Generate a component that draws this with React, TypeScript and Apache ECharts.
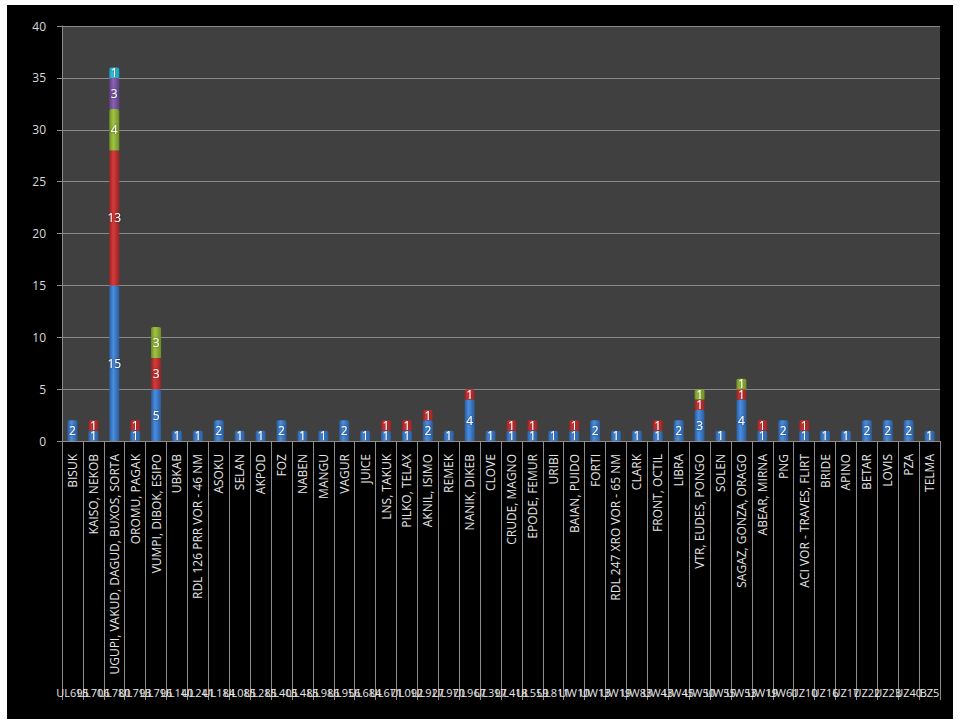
import React, { useEffect, useRef } from "react";
import * as echarts from "echarts";

const categories = [
  "BISUK", "KAISO, NEKOB", "UGUPI, VAKUD, DAGUD, BUXOS, SORTA", "OROMU, PAGAK",
  "VUMPI, DIBOK, ESIPO", "UBKAB", "RDL 126 PRR VOR - 46 NM", "ASOKU", "SELAN", "AKPOD",
  "FOZ", "NABEN", "MANGU", "VAGUR", "JUICE", "LNS, TAKUK", "PILKO, TELAX", "AKNIL, ISIMO",
  "REMEK", "NANIK, DIKEB", "CLOVE", "CRUDE, MAGNO", "EPODE, FEMUR", "URIBI", "BAIAN, PUIDO",
  "FORTI", "RDL 247 XRO VOR - 65 NM", "CLARK", "FRONT, OCTIL", "LIBRA", "VTR, EUDES, PONGO",
  "SOLEN", "SAGAZ, GONZA, ORAGO", "ABEAR, MIRNA", "PNG", "ACI VOR - TRAVES, FLIRT", "BRIDE",
  "APINO", "BETAR", "LOVIS", "PZA", "TELMA",
];

const routeCodes = [
  "UL695", "UL706", "UL780", "UL793", "UL796", "UL140", "UL241", "UL184", "UL085", "UL285",
  "UL405", "UL485", "UL986", "UL956", "UL684", "UL671", "UL092", "UL927", "UL970", "UL967",
  "UL397", "UL418", "UL559", "UL811", "UW10", "UW13", "UW19", "UW83", "UW43", "UW45",
  "UW50", "UW55", "UW53", "UW19", "UW61", "UZ10", "UZ16", "UZ17", "UZ22", "UZ23", "UZ40", "BZ5",
];

const seg1 = [2, 1, 15, 1, 5, 1, 1, 2, 1, 1, 2, 1, 1, 2, 1, 1, 1, 2, 1, 4, 1, 1, 1, 1, 1, 2, 1, 1, 1, 2, 3, 1, 4, 1, 2, 1, 1, 1, 2, 2, 2, 1];
const seg2 = [null, 1, 13, 1, 3, null, null, null, null, null, null, null, null, null, null, 1, 1, 1, null, 1, null, 1, 1, null, 1, null, null, null, 1, null, 1, null, 1, 1, null, 1, null, null, null, null, null, null];
const seg3 = [null, null, 4, null, 3, null, null, null, null, null, null, null, null, null, null, null, null, null, null, null, null, null, null, null, null, null, null, null, null, null, 1, null, 1, null, null, null, null, null, null, null, null, null];
const seg4 = [null, null, 3, null, null, null, null, null, null, null, null, null, null, null, null, null, null, null, null, null, null, null, null, null, null, null, null, null, null, null, null, null, null, null, null, null, null, null, null, null, null, null];
const seg5 = [null, null, 1, null, null, null, null, null, null, null, null, null, null, null, null, null, null, null, null, null, null, null, null, null, null, null, null, null, null, null, null, null, null, null, null, null, null, null, null, null, null, null];

const yTicks = { min: 0, max: 40, interval: 5 };

function cyl(edge: string, mid: string) {
  return new echarts.graphic.LinearGradient(0, 0, 1, 0, [
    { offset: 0, color: edge },
    { offset: 0.4, color: mid },
    { offset: 1, color: edge },
  ]);
}

export default function App() {
  const ref = useRef<HTMLDivElement>(null);
  useEffect(() => {
    if (!ref.current) return;
    const chart = echarts.init(ref.current, null, { renderer: "svg" });
    const font = "'Open Sans', 'DejaVu Sans', sans-serif";
    const mk = (name: string, data: (number | null)[], edge: string, mid: string) => ({
      name,
      type: "bar",
      stack: "total",
      data,
      barWidth: 10,
      itemStyle: { color: cyl(edge, mid), borderRadius: [2, 2, 0, 0] },
      label: {
        show: true,
        position: "inside",
        color: "#ffffff",
        fontSize: 12,
        fontFamily: font,
        textShadowColor: "rgba(0,0,0,0.6)",
        textShadowBlur: 2,
      },
    });
    chart.setOption({
      animation: false,
      backgroundColor: "#000000",
      grid: {
        left: 55,
        right: 13,
        top: 21,
        bottom: 278,
        show: true,
        backgroundColor: "#404040",
        borderWidth: 0,
      },
      xAxis: [
        {
          type: "category",
          data: categories,
          position: "bottom",
          axisLine: { show: true, lineStyle: { color: "#8c8c8c", width: 1 } },
          axisTick: { show: true, length: 259, alignWithLabel: false, lineStyle: { color: "#8c8c8c" } },
          axisLabel: {
            interval: 0,
            rotate: 90,
            margin: 13,
            color: "#e6e6e6",
            fontSize: 12,
            fontFamily: font,
          },
        },
        {
          type: "category",
          data: routeCodes,
          position: "bottom",
          offset: 0,
          axisLine: { show: false },
          axisTick: { show: false },
          axisLabel: {
            interval: 0,
            margin: 246,
            color: "#e6e6e6",
            fontSize: 11,
            fontFamily: font,
          },
        },
      ],
      yAxis: {
        type: "value",
        min: yTicks.min,
        max: yTicks.max,
        interval: yTicks.interval,
        axisLine: { show: true, lineStyle: { color: "#8c8c8c" } },
        axisTick: { show: true, length: 5, lineStyle: { color: "#8c8c8c" } },
        axisLabel: { color: "#d9d9d9", fontSize: 12, fontFamily: font, margin: 16 },
        splitLine: { lineStyle: { color: "#8a8a8a", width: 1 } },
      },
      series: [
        mk("s1", seg1, "#2a5c9e", "#4a8ee0"),
        mk("s2", seg2, "#9a2222", "#d43c3c"),
        mk("s3", seg3, "#6f8f22", "#a2c444"),
        mk("s4", seg4, "#5e3d86", "#8a62b4"),
        mk("s5", seg5, "#1a9ab8", "#44c8e4"),
      ],
    });
    return () => chart.dispose();
  }, []);
  return (
    <div style={{ position: "fixed", left: 0, top: 0, width: 960, height: 725, background: "#ffffff" }}>
      <div ref={ref} style={{ position: "absolute", left: 7, top: 5, width: 946, height: 714 }} />
    </div>
  );
}
